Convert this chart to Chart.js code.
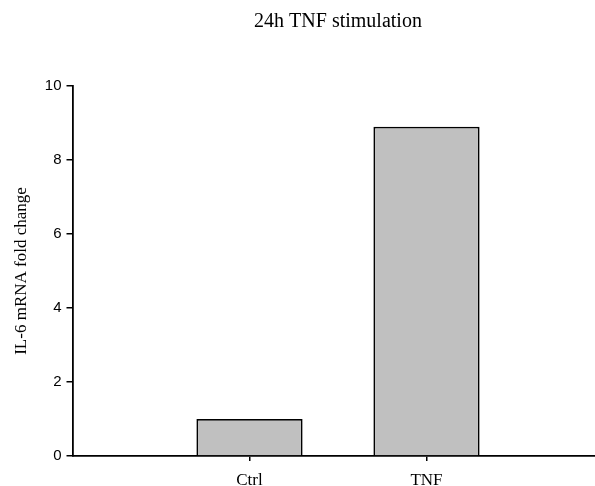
<!DOCTYPE html>
<html>
<head>
<meta charset="utf-8">
<script src="https://cdn.jsdelivr.net/npm/chart.js@4/dist/chart.umd.min.js"></script>
<style>
  html, body { margin: 0; padding: 0; background: #fff; overflow: hidden; }
  #wrap { width: 610px; height: 486px; }
</style>
</head>
<body>
<div id="wrap"><canvas id="c" width="610" height="486"></canvas></div>
<script>
// IL-6 mRNA fold change after 24h TNF stimulation
const categories = ['Ctrl', 'TNF'];
const foldChange = [1.0, 8.9];
const yTicks = [0, 2, 4, 6, 8, 10];

const serif = "'Liberation Serif', 'Times New Roman', serif";
const sans = "'Liberation Sans', Arial, sans-serif";

// categories sit at x = 1, 2 on a 0..3 axis
const points = foldChange.map((v, i) => ({ x: i + 1, y: v }));

new Chart(document.getElementById('c'), {
  type: 'bar',
  data: {
    datasets: [{
      data: points,
      backgroundColor: '#c0c0c0',
      borderColor: '#000',
      borderWidth: 1.8,
      barPercentage: 0.6,
      categoryPercentage: 1.0
    }]
  },
  options: {
    responsive: false,
    animation: false,
    layout: { padding: { top: 0, left: 0, right: 6.5, bottom: 0 } },
    plugins: {
      legend: { display: false },
      tooltip: { enabled: false },
      title: {
        display: true,
        fullSize: false,
        text: '24h TNF stimulation',
        color: '#000',
        font: { family: serif, size: 20, weight: 'normal', lineHeight: 1.2 },
        padding: { top: 10, bottom: 52 }
      }
    },
    scales: {
      x: {
        type: 'linear',
        min: 0,
        max: 3,
        offset: false,
        afterBuildTicks: s => { s.ticks = categories.map((c, i) => ({ value: i + 1 })); },
        afterFit: s => { s.height = 30; },
        ticks: {
          callback: v => categories[v - 1] ?? '',
          color: '#000',
          padding: 9,
          maxRotation: 0,
          font: { family: serif, size: 17 }
        },
        grid: { display: true, offset: false, drawOnChartArea: false, drawTicks: true, tickLength: 5, color: '#000', lineWidth: 1.5 },
        border: { display: true, color: '#000', width: 1.8 }
      },
      y: {
        min: 0,
        max: 10,
        afterBuildTicks: s => { s.ticks = yTicks.map(v => ({ value: v })); },
        afterFit: s => { s.width = 72.5; },
        ticks: {
          color: '#000',
          padding: 5,
          font: { family: sans, size: 15 }
        },
        grid: { display: true, offset: false, drawOnChartArea: false, drawTicks: true, tickLength: 6, color: '#000', lineWidth: 1.5 },
        border: { display: true, color: '#000', width: 1.8 },
        title: {
          display: true,
          text: 'IL-6 mRNA fold change',
          color: '#000',
          font: { family: serif, size: 17 },
          padding: { top: 11, bottom: 0 }
        }
      }
    }
  }
});
</script>
</body>
</html>
